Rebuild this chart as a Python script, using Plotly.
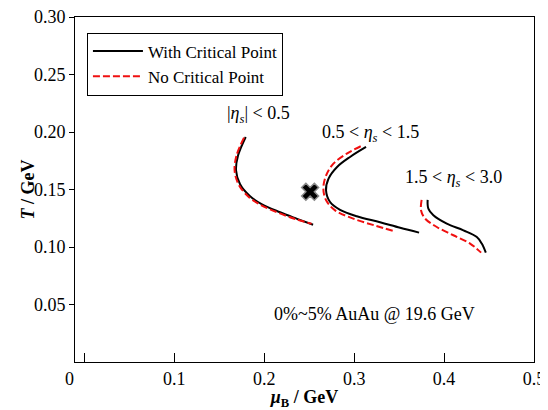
import plotly.graph_objects as go

# Curve data (mu_B in GeV, T in GeV)
mu_c1 = [0.1794, 0.1709, 0.1686, 0.1731, 0.1842, 0.1975, 0.2176, 0.2365, 0.2543]
T_c1 = [0.1957, 0.1797, 0.1667, 0.1545, 0.1441, 0.1371, 0.1302, 0.1245, 0.1193]
mu_n1 = [0.1775, 0.1692, 0.1670, 0.1714, 0.1825, 0.1959, 0.2159, 0.2348, 0.2526]
T_n1 = [0.1951, 0.1797, 0.1667, 0.1545, 0.1437, 0.1367, 0.1297, 0.1243, 0.1202]

mu_c2 = [0.3132, 0.2954, 0.2810, 0.2715, 0.2687, 0.2732, 0.2843, 0.3029, 0.3288, 0.3511, 0.3722]
T_c2 = [0.1870, 0.1783, 0.1696, 0.1595, 0.1493, 0.1391, 0.1323, 0.1267, 0.1215, 0.1167, 0.1125]
mu_n2 = [0.3073, 0.2918, 0.2769, 0.2688, 0.2657, 0.2688, 0.2788, 0.3010, 0.3244, 0.3436]
T_n2 = [0.1876, 0.1812, 0.1725, 0.1623, 0.1508, 0.1406, 0.1319, 0.1241, 0.1184, 0.1139]

mu_c3 = [0.3817, 0.3825, 0.3881, 0.4030, 0.4215, 0.4364, 0.4419, 0.4464]
T_c3 = [0.1410, 0.1334, 0.1276, 0.1203, 0.1145, 0.1087, 0.1030, 0.0951]
mu_n3 = [0.3750, 0.3744, 0.3789, 0.3919, 0.4103, 0.4289, 0.4412]
T_n3 = [0.1410, 0.1318, 0.1247, 0.1174, 0.1102, 0.1030, 0.0951]

crit_mu = [0.251]
crit_T = [0.148]

x_tickvals = [0, 0.1, 0.2, 0.3, 0.4, 0.5]
x_ticktext = ["", "0.1", "0.2", "0.3", "0.4", "0.5"]
y_tickvals = [0.05, 0.10, 0.15, 0.20, 0.25, 0.30]
y_ticktext = ["0.05", "0.10", "0.15", "0.20", "0.25", "0.30"]

FONT = "Liberation Serif, Times New Roman, serif"
FS = 18
black_line = dict(color="black", width=2)
red_line = dict(color="#f01010", width=2, dash="7px,3px")

fig = go.Figure()
curves = [(mu_c1, T_c1, mu_n1, T_n1), (mu_c2, T_c2, mu_n2, T_n2), (mu_c3, T_c3, mu_n3, T_n3)]
for i, (mc, tc, mn, tn) in enumerate(curves):
    fig.add_trace(go.Scatter(x=mc, y=tc, mode="lines", line=dict(shape="spline", **black_line),
                             name="With Critical Point", showlegend=(i == 0)))
    fig.add_trace(go.Scatter(x=mn, y=tn, mode="lines", line=dict(shape="spline", **red_line),
                             name="No Critical Point", showlegend=(i == 0)))

fig.add_trace(go.Scatter(x=crit_mu, y=crit_T, mode="markers", showlegend=False,
                         marker=dict(symbol="x", size=15, color="black",
                                     line=dict(color="#888888", width=1.5))))

annotations = [
    dict(x=0.1937, y=0.2150, text="|<i>η</i><sub><i>s</i></sub>| < 0.5"),
    dict(x=0.318, y=0.1985, text="0.5 < <i>η</i><sub><i>s</i></sub> < 1.5"),
    dict(x=0.411, y=0.1595, text="1.5 < <i>η</i><sub><i>s</i></sub> < 3.0"),
    dict(x=0.323, y=0.042, text="0%~5% AuAu @ 19.6 GeV"),
]
for a in annotations:
    fig.add_annotation(xref="x", yref="y", showarrow=False, font=dict(size=FS, family=FONT, color="black"), **a)

# "0" label of x axis (offset to the left as in the original)
fig.add_annotation(xref="paper", yref="paper", x=-0.0255, y=-0.049, text="0", showarrow=False,
                   yanchor="middle", font=dict(size=FS, family=FONT, color="black"))

# y axis title
fig.add_annotation(xref="paper", yref="paper", x=-0.1024, y=0.5, text="<b><i>T</i> / GeV</b>",
                   textangle=-90, showarrow=False, xanchor="center", yanchor="middle",
                   font=dict(size=FS, family=FONT, color="black"))

# page body has an 8px margin, so the figure is 8px smaller and margins shifted accordingly
fig.update_layout(
    width=540, height=402,
    margin=dict(l=67, r=14, t=9, b=48, autoexpand=False),
    paper_bgcolor="white", plot_bgcolor="white",
    font=dict(family=FONT, size=FS, color="black"),
    showlegend=True,
    legend=dict(x=0.026, y=0.955, xanchor="left", yanchor="top",
                bordercolor="black", borderwidth=1, bgcolor="white",
                font=dict(size=17, family=FONT), itemwidth=50,
                tracegroupgap=0),
    xaxis=dict(range=[-0.0105, 0.5], tickvals=x_tickvals, ticktext=x_ticktext,
               ticks="inside", ticklen=9, tickcolor="black", automargin=False,
               ticklabeloverflow="allow",
               showline=True, linecolor="black", linewidth=1, mirror=True,
               showgrid=False, zeroline=False,
               title=dict(text="<b><i>μ</i><sub>B</sub> / GeV</b>", standoff=2,
                          font=dict(size=FS, family=FONT))),
    yaxis=dict(range=[0, 0.30], tickvals=y_tickvals, ticktext=y_ticktext,
               ticks="outside", ticklen=5, tickcolor="black", automargin=False,
               ticklabeloverflow="allow",
               showline=True, linecolor="black", linewidth=1, mirror=True,
               showgrid=False, zeroline=False),
)

fig.write_html("out.html")
